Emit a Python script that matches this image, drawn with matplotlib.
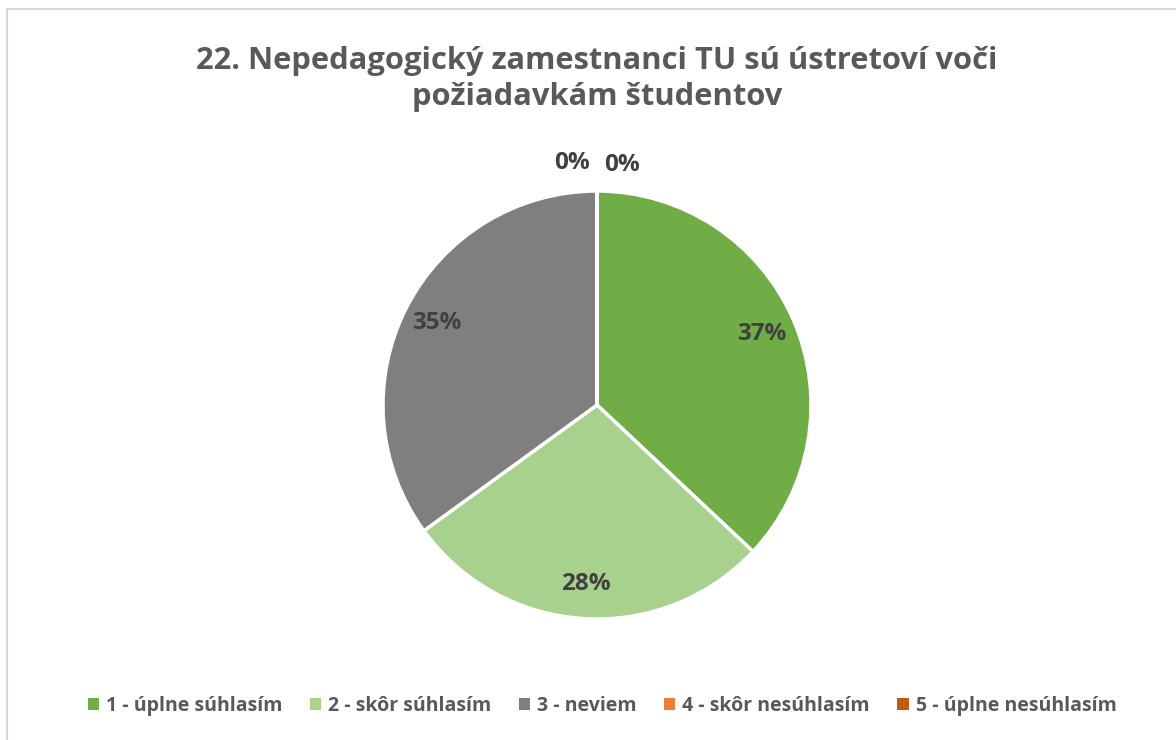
import numpy as np
import matplotlib.pyplot as plt
from matplotlib.patches import Rectangle

title = "22. Nepedagogický zamestnanci TU sú ústretoví voči\npožiadavkám študentov"
categories = ["1 - úplne súhlasím", "2 - skôr súhlasím", "3 - neviem",
              "4 - skôr nesúhlasím", "5 - úplne nesúhlasím"]
shares = [37, 28, 35, 0, 0]
colors = ["#70AD47", "#A9D18E", "#7F7F7F", "#ED7D31", "#C55A11"]

plt.rcParams['font.family'] = ['Open Sans', 'DejaVu Sans']
text_col = "#595959"

fig = plt.figure(figsize=(11.76, 7.40), dpi=100)
fig.patches.append(Rectangle((7 / 1176, -0.1), 1.2, 1.1 - 9 / 740,
                             transform=fig.transFigure, fill=False,
                             edgecolor="#D9D9D9", linewidth=1.5))

# pie area: center (597, 405), radius 214 px
R = 214
ax = fig.add_axes([(597 - R) / 1176, (335 - R) / 740, 2 * R / 1176, 2 * R / 740])
ax.set_aspect('equal')
wedges, _ = ax.pie(shares, colors=colors, startangle=90, counterclock=False,
                   wedgeprops=dict(edgecolor="white", linewidth=2.5),
                   radius=1.0)
ax.set_xlim(-1, 1)
ax.set_ylim(-1, 1)

zero_side = -1
for w, v in zip(wedges, shares):
    mid = np.deg2rad((w.theta1 + w.theta2) / 2)
    if v > 0:
        x, y = 0.84 * np.cos(mid), 0.84 * np.sin(mid)
    else:
        x, y = 0.115 * zero_side, 1.13 + (0.0 if zero_side < 0 else -0.01)
        zero_side = 1
    ax.text(x, y, f"{v}%", ha="center", va="center", fontsize=17.5,
            fontweight="bold", color="#404040", clip_on=False)

fig.text(597 / 1176, 1 - 79 / 740, title, ha="center", va="center",
         fontsize=22.2, fontweight="bold", color=text_col, linespacing=1.3)

leg = fig.legend(wedges, categories, loc="center", bbox_to_anchor=(602 / 1176, 1 - 706 / 740),
                 ncol=5, frameon=False, handlelength=0.6, handleheight=0.6,
                 handletextpad=0.35, columnspacing=1.4,
                 prop=dict(size=14, weight="bold"))
for t in leg.get_texts():
    t.set_color(text_col)
for h in leg.legend_handles:
    h.set_edgecolor("none")

fig.savefig("out.png", dpi=100)
